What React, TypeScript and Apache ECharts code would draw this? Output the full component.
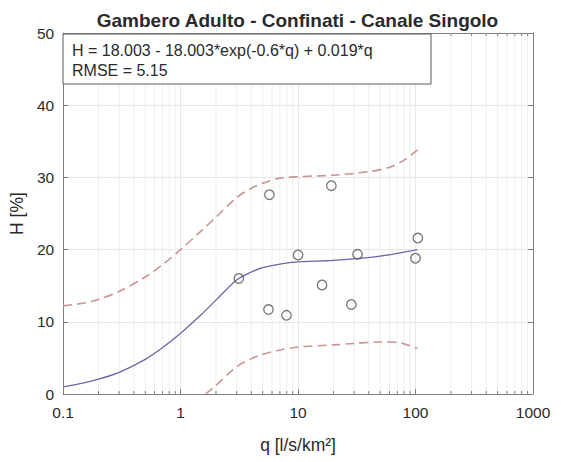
import React, { useEffect, useRef } from "react";
import * as echarts from "echarts";

// ---- data ----
const obsQ = [3.13, 5.7, 5.6, 7.96, 10, 16, 19.2, 28.4, 32.1, 100, 104.6];
const obsH = [16.0, 27.6, 11.7, 10.9, 19.25, 15.1, 28.85, 12.4, 19.35, 18.8, 21.6];

const fitQ = [0.1, 0.15, 0.2, 0.3, 0.5, 0.7, 1, 1.5, 2, 3, 4, 5, 7, 10, 20, 50, 104];
const fitH = [1.0, 1.55, 2.05, 3.0, 4.8, 6.4, 8.4, 11.0, 13.0, 15.8, 16.9, 17.5, 18.0, 18.3, 18.5, 19.1, 20.0];

const upperQ = [0.1, 0.15, 0.2, 0.3, 0.5, 0.7, 1, 1.5, 2, 3, 4, 5, 7, 10, 20, 40, 60, 80, 104];
const upperH = [12.2, 12.6, 13.1, 14.2, 16.2, 17.9, 20.0, 22.6, 24.5, 27.2, 28.5, 29.2, 29.9, 30.1, 30.3, 30.8, 31.4, 32.4, 33.8];

const lowerQ = [1.63, 2, 3, 4, 5, 7, 10, 20, 30, 50, 70, 85, 104];
const lowerH = [0, 1.2, 3.8, 4.9, 5.5, 6.1, 6.5, 6.8, 7.0, 7.2, 7.15, 6.8, 6.3];

const minorQ = [
  0.2, 0.3, 0.4, 0.5, 0.6, 0.7, 0.8, 0.9,
  2, 3, 4, 5, 6, 7, 8, 9,
  20, 30, 40, 50, 60, 70, 80, 90,
  200, 300, 400, 500, 600, 700, 800, 900,
];

const titleText = "Gambero Adulto - Confinati - Canale Singolo";
const xName = "q [l/s/km²]";
const yName = "H [%]";
const boxLines = ["H = 18.003 - 18.003*exp(-0.6*q) + 0.019*q", "RMSE = 5.15"];

const FONT = "'Liberation Sans', Arial, Helvetica, sans-serif";
const AXIS_COLOR = "#808080";
const TEXT_COLOR = "#2a2a2a";
const GRID_COLOR = "#e7e7e7";
const MINOR_GRID = "#eeeeee";

const pairs = (a: number[], b: number[]) => a.map((v, i) => [v, b[i]]);

export default function App() {
  const ref = useRef<HTMLDivElement>(null);

  useEffect(() => {
    if (!ref.current) return;
    const chart = echarts.init(ref.current, undefined, { renderer: "svg" });

    const fmt = (v: number) => String(Number(Number(v).toPrecision(3)));

    const option: any = {
      animation: false,
      backgroundColor: "#ffffff",
      textStyle: { fontFamily: FONT },
      title: {
        text: titleText,
        left: 297.5,
        top: 11,
        textAlign: "center",
        padding: 0,
        textStyle: { fontFamily: FONT, fontSize: 19, fontWeight: "bold", color: TEXT_COLOR },
      },
      grid: { left: 62, top: 33, right: 28, bottom: 68, containLabel: false },
      xAxis: [
        {
          type: "log",
          logBase: 10,
          min: 0.1,
          max: 1000,
          position: "bottom",
          name: xName,
          nameLocation: "middle",
          nameGap: 42,
          nameTextStyle: { fontFamily: FONT, fontSize: 17.5, color: TEXT_COLOR },
          axisLine: { show: true, onZero: false, lineStyle: { color: AXIS_COLOR, width: 1 } },
          axisTick: { show: true, inside: true, length: 5, lineStyle: { color: AXIS_COLOR } },
          axisLabel: { formatter: fmt, fontFamily: FONT, fontSize: 15.5, color: TEXT_COLOR, margin: 10 },
          splitLine: { show: true, lineStyle: { color: GRID_COLOR, width: 1 } },
        },
        {
          type: "log",
          logBase: 10,
          min: 0.1,
          max: 1000,
          position: "top",
          axisLine: { show: true, onZero: false, lineStyle: { color: AXIS_COLOR, width: 1 } },
          axisTick: { show: true, inside: true, length: 5, lineStyle: { color: AXIS_COLOR } },
          axisLabel: { show: false },
          splitLine: { show: false },
        },
      ],
      yAxis: [
        {
          type: "value",
          min: 0,
          max: 50,
          interval: 10,
          position: "left",
          name: yName,
          nameLocation: "middle",
          nameGap: 35,
          nameRotate: 90,
          nameTextStyle: { fontFamily: FONT, fontSize: 17.5, color: TEXT_COLOR },
          axisLine: { show: true, onZero: false, lineStyle: { color: AXIS_COLOR, width: 1 } },
          axisTick: { show: true, inside: true, length: 5, lineStyle: { color: AXIS_COLOR } },
          axisLabel: { fontFamily: FONT, fontSize: 15.5, color: TEXT_COLOR, margin: 9 },
          splitLine: { show: true, lineStyle: { color: GRID_COLOR, width: 1 } },
        },
        {
          type: "value",
          min: 0,
          max: 50,
          interval: 10,
          position: "right",
          axisLine: { show: true, onZero: false, lineStyle: { color: AXIS_COLOR, width: 1 } },
          axisTick: { show: true, inside: true, length: 5, lineStyle: { color: AXIS_COLOR } },
          axisLabel: { show: false },
          splitLine: { show: false },
        },
      ],
      series: [
        {
          type: "custom",
          name: "minor",
          silent: true,
          z: 1,
          clip: false,
          xAxisIndex: 0,
          yAxisIndex: 0,
          data: minorQ.map((q) => [q, 0]),
          renderItem: (_params: any, api: any) => {
            const q = api.value(0);
            const b = api.coord([q, 0]);
            const t = api.coord([q, 50]);
            return {
              type: "group",
              children: [
                {
                  type: "line",
                  shape: { x1: b[0], y1: b[1], x2: t[0], y2: t[1] },
                  style: { stroke: MINOR_GRID, lineWidth: 1 },
                },
                {
                  type: "line",
                  shape: { x1: b[0], y1: b[1], x2: b[0], y2: b[1] - 3 },
                  style: { stroke: AXIS_COLOR, lineWidth: 1 },
                },
                {
                  type: "line",
                  shape: { x1: t[0], y1: t[1], x2: t[0], y2: t[1] + 3 },
                  style: { stroke: AXIS_COLOR, lineWidth: 1 },
                },
              ],
            };
          },
        },
        {
          type: "line",
          name: "upper",
          data: pairs(upperQ, upperH),
          smooth: 0.3,
          showSymbol: false,
          silent: true,
          z: 3,
          lineStyle: { color: "#c99494", width: 1.6, type: [9, 5] },
        },
        {
          type: "line",
          name: "lower",
          data: pairs(lowerQ, lowerH),
          smooth: 0.3,
          showSymbol: false,
          silent: true,
          z: 3,
          lineStyle: { color: "#c99494", width: 1.6, type: [9, 5] },
        },
        {
          type: "line",
          name: "fit",
          data: pairs(fitQ, fitH),
          smooth: 0.3,
          showSymbol: false,
          silent: true,
          z: 4,
          lineStyle: { color: "#6767aa", width: 1.3 },
        },
        {
          type: "scatter",
          name: "obs",
          data: pairs(obsQ, obsH),
          symbol: "circle",
          symbolSize: 9.5,
          z: 5,
          itemStyle: { color: "rgba(255,255,255,0)", borderColor: "#555555", borderWidth: 1.3 },
        },
      ],
      graphic: [
        {
          type: "rect",
          z: 100,
          shape: { x: 63, y: 34, width: 368, height: 50 },
          style: { fill: "#ffffff", stroke: "#5a5a5a", lineWidth: 1 },
        },
        {
          type: "text",
          z: 101,
          x: 72,
          y: 50,
          style: {
            text: boxLines[0],
            fontFamily: FONT,
            fontSize: 16,
            fill: TEXT_COLOR,
            verticalAlign: "middle",
          },
        },
        {
          type: "text",
          z: 101,
          x: 72,
          y: 70,
          style: {
            text: boxLines[1],
            fontFamily: FONT,
            fontSize: 16,
            fill: TEXT_COLOR,
            verticalAlign: "middle",
          },
        },
      ],
    };

    chart.setOption(option);
    return () => chart.dispose();
  }, []);

  return (
    <div
      ref={ref}
      style={{ position: "fixed", left: 0, top: 0, width: 561, height: 462, background: "#fff" }}
    />
  );
}
